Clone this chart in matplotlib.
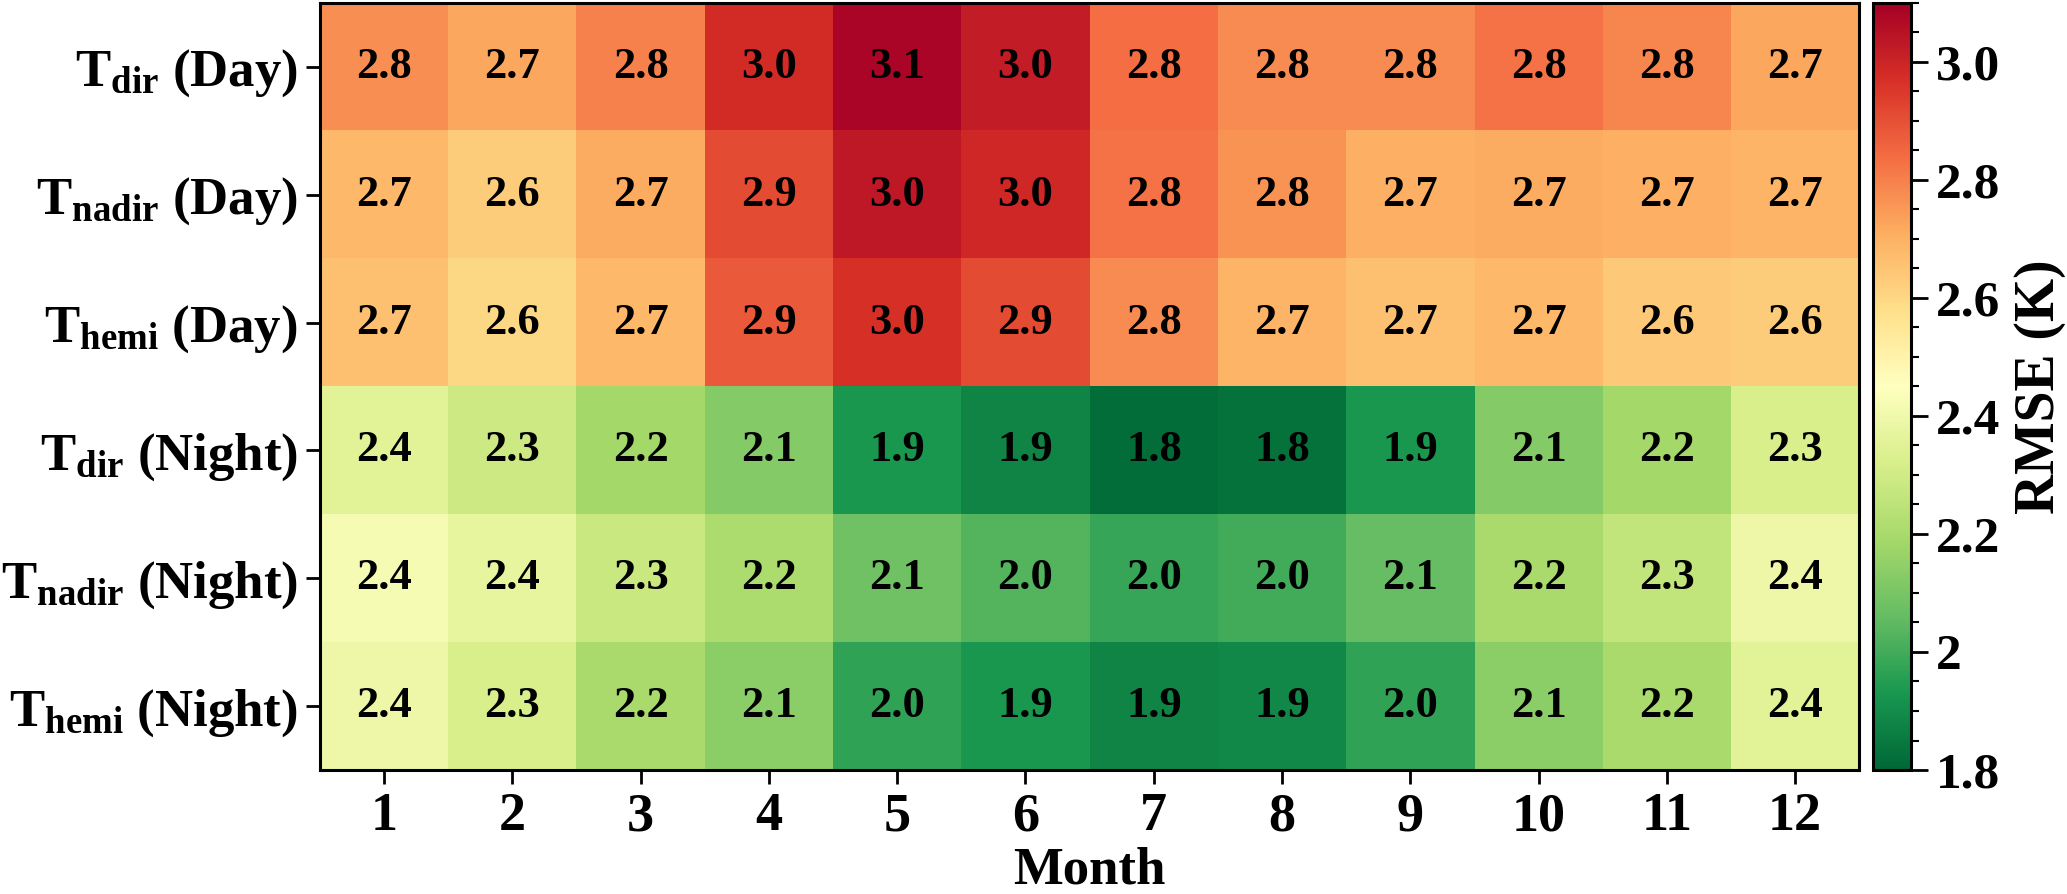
import numpy as np
import matplotlib
matplotlib.use('Agg')
import matplotlib.pyplot as plt
from matplotlib.ticker import MultipleLocator

# RMSE (K) per month
months = ['1', '2', '3', '4', '5', '6', '7', '8', '9', '10', '11', '12']
row_labels = [r'$\mathbf{T_{dir}}$ (Day)', r'$\mathbf{T_{nadir}}$ (Day)', r'$\mathbf{T_{hemi}}$ (Day)',
              r'$\mathbf{T_{dir}}$ (Night)', r'$\mathbf{T_{nadir}}$ (Night)', r'$\mathbf{T_{hemi}}$ (Night)']

tdir_day = [2.77, 2.72, 2.80, 2.98, 3.08, 3.02, 2.84, 2.78, 2.78, 2.83, 2.79, 2.72]
tnadir_day = [2.68, 2.63, 2.71, 2.91, 3.03, 2.99, 2.83, 2.76, 2.70, 2.71, 2.70, 2.69]
themi_day = [2.66, 2.60, 2.68, 2.88, 2.97, 2.91, 2.78, 2.69, 2.66, 2.68, 2.64, 2.63]
tdir_night = [2.35, 2.29, 2.19, 2.12, 1.93, 1.88, 1.82, 1.83, 1.93, 2.12, 2.19, 2.32]
tnadir_night = [2.42, 2.37, 2.28, 2.21, 2.08, 2.03, 1.98, 2.00, 2.06, 2.20, 2.26, 2.39]
themi_night = [2.39, 2.32, 2.20, 2.14, 1.97, 1.93, 1.88, 1.89, 1.97, 2.14, 2.20, 2.35]

cbar_ticks = [1.8, 2.0, 2.2, 2.4, 2.6, 2.8, 3.0]
cbar_ticklabels = ['1.8', '2', '2.2', '2.4', '2.6', '2.8', '3.0']

data = np.array([tdir_day, tnadir_day, themi_day, tdir_night, tnadir_night, themi_night])

plt.rcParams['font.family'] = 'Liberation Serif'
plt.rcParams['font.weight'] = 'bold'
plt.rcParams['mathtext.fontset'] = 'custom'
plt.rcParams['mathtext.rm'] = 'Liberation Serif:bold'
plt.rcParams['mathtext.bf'] = 'Liberation Serif:bold'
plt.rcParams['mathtext.it'] = 'Liberation Serif:bold'

fig = plt.figure(figsize=(20.67, 8.94), dpi=100)
ax = fig.add_axes([0.1548, 0.1387, 0.7447, 0.8580])
cax = fig.add_axes([0.9062, 0.1387, 0.0184, 0.8580])

im = ax.imshow(data, cmap='RdYlGn_r', vmin=1.8, vmax=3.1, aspect='auto')

for i in range(data.shape[0]):
    for j in range(data.shape[1]):
        ax.text(j, i, f'{data[i, j]:.1f}', ha='center', va='center',
                fontsize=32, fontweight='bold', color='black')

ax.set_xticks(range(len(months)))
ax.set_xticklabels(months, fontsize=39, fontweight='bold')
ax.set_yticks(range(len(row_labels)))
ax.set_yticklabels(row_labels, fontsize=38, fontweight='bold')
ax.set_xlabel('Month', fontsize=38, fontweight='bold', labelpad=3)
ax.tick_params(axis='both', length=10, width=2, pad=6)
for s in ax.spines.values():
    s.set_linewidth(2.2)

cb = fig.colorbar(im, cax=cax)
cb.set_ticks(cbar_ticks)
cb.set_ticklabels(cbar_ticklabels)
cb.ax.yaxis.set_minor_locator(MultipleLocator(0.05))
cb.ax.tick_params(which='major', length=12, width=2, labelsize=37, pad=6)
cb.ax.tick_params(which='minor', length=6, width=1.5)
for t in cb.ax.get_yticklabels():
    t.set_fontweight('bold')
cb.set_label('RMSE (K)', fontsize=40, fontweight='bold', labelpad=10)
cb.outline.set_linewidth(2.2)

fig.savefig('out.png', dpi=100)
